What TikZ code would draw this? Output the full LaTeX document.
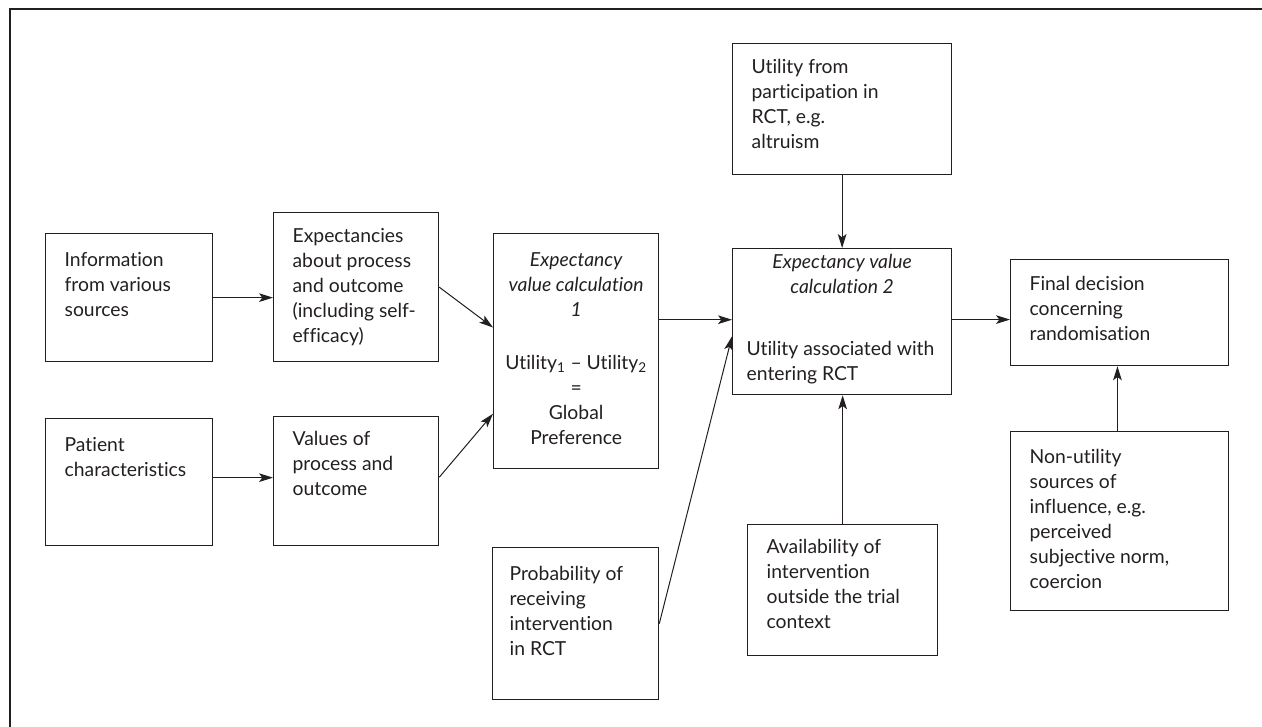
\documentclass[tikz,border=0pt]{standalone}
\usepackage{fontspec}
\setmainfont{Lato}[Ligatures=NoCommon]
\usetikzlibrary{arrows.meta,calc}
\definecolor{ink}{HTML}{231F20}
\newlength\px
\setlength\px{0.75pt}
% left-aligned box text: {width}{height}{first baseline}{left inset}{text}
\newcommand\boxtext[5]{\parbox[t][#2\px][t]{#1\px}{\raggedright\leftskip=#4\px\relax\rule{0pt}{#3\px}#5}}
% centred box text: {width}{height}{first baseline}{text}
\newcommand\cboxtext[4]{\parbox[t][#2\px][t]{#1\px}{\centering\rule{0pt}{#3\px}#4}}
\tikzset{
  x=0.75pt, y=-0.75pt,
  every node/.style={text=ink, font=\fontsize{14.5pt}{18.75pt}\selectfont},
  box/.style={draw=ink, line width=0.95pt, inner sep=0pt, anchor=north west},
  conn/.style={draw=ink, line width=0.75pt, -{Stealth[length=10.5pt,width=6.5pt,inset=2.5pt]}},
  frame/.style={draw=ink, line width=1.1pt},
}
\begin{document}
\begin{tikzpicture}
\useasboundingbox (0,0) rectangle (1262,726);
\draw[frame] (1262,9) -- (10,9) -- (10,727);

% inputs
\node[box] (info) at (45,233) {\boxtext{167}{128}{33}{19}{Information\\ from various\\ sources}};
\node[box] (expect) at (273,212) {\boxtext{165}{149}{30}{19}{Expectancies\\ about process\\ and outcome\\ (including self-\\ efficacy)}};
\node[box] (patient) at (45,418) {\boxtext{167}{127}{33}{19}{Patient\\ characteristics}};
\node[box] (values) at (273,416) {\boxtext{165}{129}{29}{19}{Values of\\ process and\\ outcome}};

% first calculation
\node[box] (calc1) at (493,233) {\cboxtext{165}{235}{33}{\itshape Expectancy\\ value calculation\\ 1\\[28\px]\upshape Utility\textsubscript{1} – Utility\textsubscript{2}\\ =\\ Global\\ Preference}};
\node[box] (prob) at (492,547) {\boxtext{166}{152}{33}{17}{Probability of\\ receiving\\ intervention\\ in RCT}};

% second calculation
\node[box] (util) at (732,43) {\boxtext{219}{131}{30}{19}{Utility from\\ participation in\\ RCT, e.g.\\ altruism}};
\node[box] (calc2) at (732,248) {\parbox[t][146\px][t]{219\px}{\centering\itshape\rule{0pt}{20\px}Expectancy value\\ calculation 2\par
  \vspace{37\px}\raggedright\leftskip=14\px\relax\upshape Utility associated with\\ entering RCT}};
\node[box] (avail) at (747,524) {\boxtext{190}{131}{29}{19}{Availability of\\ intervention\\ outside the trial\\ context}};

% decision
\node[box] (final) at (1010,259) {\boxtext{218}{106}{31}{19}{Final decision\\ concerning\\ randomisation}};
\node[box] (nonutil) at (1010,431) {\boxtext{218}{179}{32}{19}{Non-utility\\ sources of\\ influence, e.g.\\ perceived\\ subjective norm,\\ coercion}};

% connectors
\draw[conn] (info.east) -- (info.east -| expect.west);
\coordinate (pe) at ($(patient.north east)!0.465!(patient.south east)$);
\draw[conn] (pe) -- (pe -| values.west);
\draw[conn] (expect.east) -- ($(calc1.north west)!0.40!(calc1.south west)$);
\draw[conn] ($(values.north east)!0.47!(values.south east)$) -- ($(calc1.north west)!0.765!(calc1.south west)$);
\coordinate (c1e) at ($(calc1.north east)!0.367!(calc1.south east)$);
\draw[conn] (c1e) -- (c1e -| calc2.west);
\draw[conn] (prob.east) -- ($(calc2.north west)!0.60!(calc2.south west)$);
\draw[conn] (util.south) -- (util.south |- calc2.north);
\draw[conn] (avail.north) -- (avail.north |- calc2.south);
\coordinate (c2e) at ($(calc2.north east)!0.486!(calc2.south east)$);
\draw[conn] (c2e) -- (c2e -| final.west);
\coordinate (nn) at ($(nonutil.north west)!0.49!(nonutil.north east)$);
\draw[conn] (nn) -- (nn |- final.south);
\end{tikzpicture}
\end{document}
